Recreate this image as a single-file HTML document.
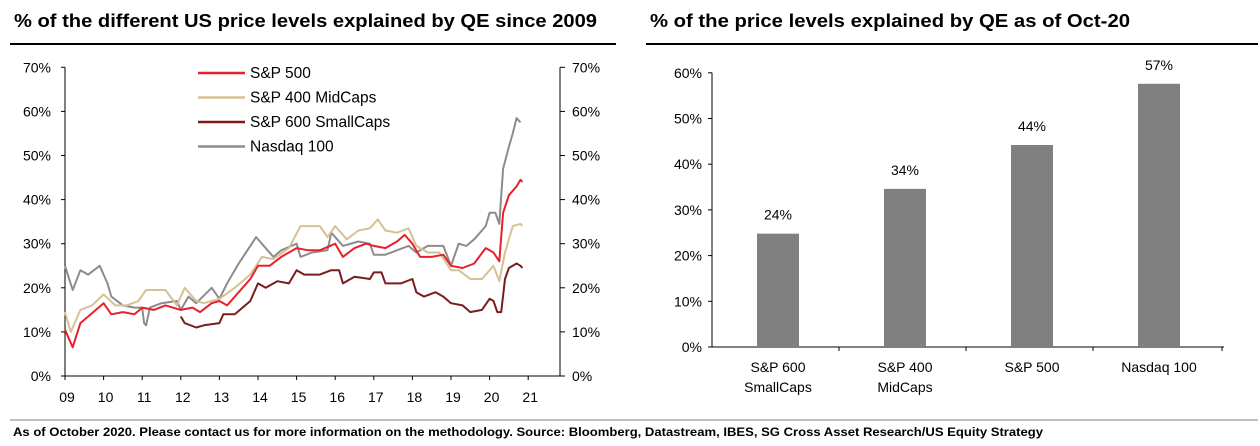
<!DOCTYPE html>
<html><head><meta charset="utf-8"><style>
html,body{margin:0;padding:0;background:#fff;}
svg{display:block;font-family:"Liberation Sans",Arial,sans-serif;}
</style></head><body>
<svg id="s" width="1260" height="446" viewBox="0 0 1260 446">
<text x="14" y="27" font-size="18" font-weight="bold" fill="#000" textLength="583" lengthAdjust="spacingAndGlyphs">% of the different US price levels explained by QE since 2009</text>
<line x1="10" y1="44" x2="616" y2="44" stroke="#000" stroke-width="2"/>
<text x="650" y="27" font-size="18" font-weight="bold" fill="#000" textLength="480" lengthAdjust="spacingAndGlyphs">% of the price levels explained by QE as of Oct-20</text>
<line x1="646" y1="44" x2="1258" y2="44" stroke="#000" stroke-width="2"/>
<line x1="10" y1="420" x2="1258" y2="420" stroke="#aaa" stroke-width="1.5"/>
<text x="13" y="436" font-size="12" font-weight="bold" fill="#000" textLength="1030" lengthAdjust="spacingAndGlyphs">As of October 2020. Please contact us for more information on the methodology. Source: Bloomberg, Datastream, IBES, SG Cross Asset Research/US Equity Strategy</text>
<g id="left" font-size="14" fill="#000"></g>
<g id="right" font-size="14" fill="#000"></g>
</svg>
<script>
var NS="http://www.w3.org/2000/svg";
function el(p,t,a,txt){var e=document.createElementNS(NS,t);for(var k in a)e.setAttribute(k,a[k]);if(txt!=null)e.textContent=txt;p.appendChild(e);return e;}
var L=document.getElementById('left');
var X0=65,XW=38.6,Y0=376,YS=4.41;
function X(y){return X0+(y-2009)*XW;} function Y(v){return Y0-v*YS;}
el(L,'line',{x1:X0,y1:Y(70),x2:X0,y2:Y0,stroke:'#000','stroke-width':1});
el(L,'line',{x1:560,y1:Y(70),x2:560,y2:Y0,stroke:'#000','stroke-width':1});
el(L,'line',{x1:X0,y1:Y0,x2:560,y2:Y0,stroke:'#000','stroke-width':1});
for(var v=0;v<=70;v+=10){
 el(L,'line',{x1:X0-4,y1:Y(v),x2:X0,y2:Y(v),stroke:'#000'});
 el(L,'line',{x1:560,y1:Y(v),x2:565,y2:Y(v),stroke:'#000'});
 el(L,'text',{x:X0-14,y:Y(v)+5,'text-anchor':'end'},v+'%');
 el(L,'text',{x:572,y:Y(v)+5},v+'%');
}
for(var i=0;i<=12;i++){var x=X(2009+i);
 el(L,'line',{x1:x,y1:Y0,x2:x,y2:Y0+4,stroke:'#000'});
 el(L,'text',{x:x+2,y:402,'text-anchor':'middle'},String(9+i).padStart(2,'0'));
}
function series(d,c){var p=[];for(var i=0;i<d.length;i+=2)p.push(X(2000+d[i]).toFixed(1)+','+Y(d[i+1]).toFixed(1));
 el(L,'polyline',{points:p.join(' '),fill:'none',stroke:c,'stroke-width':2,'stroke-linejoin':'round'});}
var nas=[9.0,25,9.2,19.5,9.4,24,9.6,23,9.9,25,10.1,21,10.2,18,10.5,16,10.8,15.5,11.0,15.5,11.05,12,11.1,11.5,11.2,15.5,11.5,16.5,11.9,17,12.0,15,12.2,18,12.4,16.5,12.8,20,13.0,17.5,13.2,21,13.5,25.5,13.8,29.5,13.95,31.5,14.2,29,14.4,27,14.6,28.5,15.0,30,15.1,27,15.4,28,15.8,28.5,15.9,32.5,16.2,29.5,16.6,30.5,16.9,30,17.0,27.5,17.3,27.5,17.6,28.5,17.9,29.5,18.1,28,18.4,29.5,18.8,29.5,19.0,25,19.2,30,19.4,29.5,19.6,31,19.9,34,20.0,37,20.15,37,20.25,34.5,20.35,47,20.5,52,20.6,55,20.7,58.5,20.8,57.5];
var mid=[9.0,14.5,9.15,10,9.4,15,9.7,16,10.0,18.5,10.3,16,10.6,16,10.9,17,11.1,19.5,11.3,19.5,11.6,19.5,11.9,16,12.0,18,12.1,20,12.4,17,12.6,16.5,13.0,17.5,13.4,20,13.8,23,14.1,27,14.4,26.5,14.8,29,15.1,34,15.3,34,15.6,34,15.8,31.5,16.0,34,16.3,31,16.6,33,16.9,33.5,17.1,35.5,17.3,33,17.6,32.5,17.9,33.5,18.1,29.5,18.4,28,18.7,28,19.0,24,19.2,24,19.5,22,19.8,22,20.0,24,20.1,25,20.25,21.5,20.4,28,20.6,34,20.8,34.5,20.85,34];
var spx=[9.0,10.5,9.2,6.5,9.4,12,9.8,15,10.0,16.5,10.2,14,10.5,14.5,10.8,14,11.0,15.5,11.3,15,11.6,16,12.0,15,12.3,15.5,12.5,14.5,12.8,16.5,13.0,17,13.2,16,13.5,19,13.8,22,14.0,25,14.3,25,14.6,27,15.0,29,15.3,28.5,15.6,28.5,16.0,30,16.2,27,16.5,29,16.8,30,17.0,29.5,17.3,29,17.6,30.5,17.8,32,18.0,30,18.2,27,18.5,27,18.8,27.5,19.0,25,19.3,24.5,19.6,25.5,19.9,29,20.1,28,20.25,26,20.35,37,20.5,41,20.7,43,20.8,44.5,20.85,44];
var sml=[12.0,13.5,12.1,12,12.4,11,12.6,11.5,13.0,12,13.1,14,13.4,14,13.8,17,14.0,21,14.2,20,14.5,21.5,14.8,21,15.0,24,15.2,23,15.6,23,15.9,24,16.1,24,16.2,21,16.5,22.5,16.9,22,17.0,23.5,17.2,23.5,17.3,21,17.7,21,18.0,22,18.1,19,18.3,18,18.6,19,18.8,18,19.0,16.5,19.3,16,19.5,14.5,19.8,15,20.0,17.5,20.1,17,20.2,14.5,20.3,14.5,20.4,22,20.5,24.5,20.7,25.5,20.8,25,20.85,24.5];
series(nas,'#8c8c8c');series(mid,'#d6c194');series(sml,'#7b1c1c');series(spx,'#e8202c');
var lg=[['S&P 500','#e8202c'],['S&P 400 MidCaps','#d6c194'],['S&P 600 SmallCaps','#7b1c1c'],['Nasdaq 100','#8c8c8c']];
lg.forEach(function(g,i){var y=73+i*24.5;
 el(L,'line',{x1:198,y1:y,x2:245,y2:y,stroke:g[1],'stroke-width':2.5});
 el(L,'text',{x:250,y:y+5,'font-size':15.5},g[0]);});
var R=document.getElementById('right');
var RX=712,RY0=347,RS=4.57;
function RY(v){return RY0-v*RS;}
el(R,'line',{x1:RX,y1:RY(60),x2:RX,y2:RY0,stroke:'#000'});
el(R,'line',{x1:RX,y1:RY0,x2:1224,y2:RY0,stroke:'#000'});
for(var v=0;v<=60;v+=10){el(R,'line',{x1:RX-4,y1:RY(v),x2:RX,y2:RY(v),stroke:'#000'});
 el(R,'text',{x:RX-10,y:RY(v)+5,'text-anchor':'end'},v+'%');}
[839,966,1093,1222].forEach(function(x){el(R,'line',{x1:x,y1:RY0,x2:x,y2:RY0+4,stroke:'#000'});});
var bars=[[757,24.8,'24%',['S&P 600','SmallCaps']],[884,34.6,'34%',['S&P 400','MidCaps']],[1011,44.2,'44%',['S&P 500']],[1138,57.6,'57%',['Nasdaq 100']]];
bars.forEach(function(b){var c=b[0]+21;
 el(R,'rect',{x:b[0],y:RY(b[1]),width:42,height:b[1]*RS,fill:'#808080'});
 el(R,'text',{x:c,y:RY(b[1])-14,'text-anchor':'middle'},b[2]);
 b[3].forEach(function(t,i){el(R,'text',{x:c,y:372+i*20,'text-anchor':'middle'},t);});
});
</script>
</body></html>
